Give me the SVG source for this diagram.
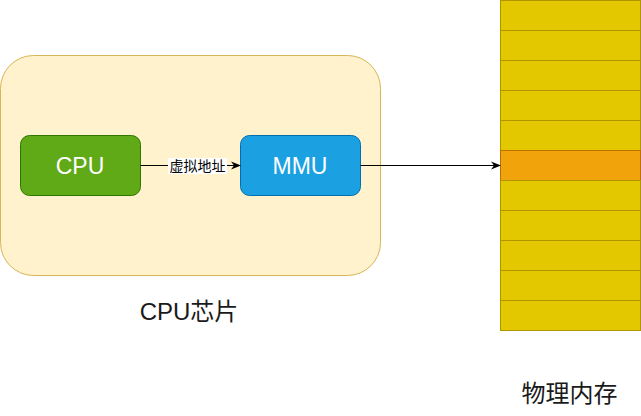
<svg xmlns="http://www.w3.org/2000/svg" width="641" height="416" viewBox="0 0 641 416">
<defs>
<style>
.t{font-family:"Liberation Sans","Noto Sans CJK SC",sans-serif;}
.cell{fill:#e3c800;stroke:#b09500;stroke-width:1;}
.box{font-size:23px;fill:#ffffff;text-anchor:middle;}
.lbl{font-size:24px;fill:#1a1a1a;text-anchor:middle;}
.edge{stroke:#000;stroke-width:1;fill:none;}
</style>
<marker id="arr" viewBox="0 0 10 10" refX="9" refY="5" markerWidth="10" markerHeight="10" markerUnits="userSpaceOnUse" orient="auto">
<path d="M0,1 L10,5 L0,9 L3,5 Z" fill="#000"/>
</marker>
</defs>
<rect width="641" height="416" fill="#ffffff"/>
<g id="chip">
<rect x="0.5" y="55.5" width="380" height="220" rx="33" ry="33" fill="#fff2cc" stroke="#d6b656"/>
<text class="t lbl" x="189" y="320">CPU芯片</text>
</g>
<g id="memory">
<rect class="cell" x="500.5" y="0.5" width="140" height="30"/>
<rect class="cell" x="500.5" y="30.5" width="140" height="30"/>
<rect class="cell" x="500.5" y="60.5" width="140" height="30"/>
<rect class="cell" x="500.5" y="90.5" width="140" height="30"/>
<rect class="cell" x="500.5" y="120.5" width="140" height="30"/>
<rect x="500.5" y="150.5" width="140" height="30" fill="#f0a30a" stroke="#bd7000"/>
<rect class="cell" x="500.5" y="180.5" width="140" height="30"/>
<rect class="cell" x="500.5" y="210.5" width="140" height="30"/>
<rect class="cell" x="500.5" y="240.5" width="140" height="30"/>
<rect class="cell" x="500.5" y="270.5" width="140" height="30"/>
<rect class="cell" x="500.5" y="300.5" width="140" height="30"/>
<text class="t lbl" x="569.5" y="402">物理内存</text>
</g>
<g id="cpu">
<rect x="20.5" y="135.5" width="120" height="60" rx="9" ry="9" fill="#60a917" stroke="#2d7600"/>
<text class="t box" x="80" y="174">CPU</text>
</g>
<g id="mmu">
<rect x="240.5" y="135.5" width="120" height="60" rx="9" ry="9" fill="#1ba1e2" stroke="#006eaf"/>
<text class="t box" x="300" y="174">MMU</text>
</g>
<g id="connectors">
<path class="edge" d="M140.5,165.5 L240,165.5" marker-end="url(#arr)"/>
<rect x="168" y="158" width="59" height="16" fill="#ffffff"/>
<text class="t" x="197.5" y="171" font-size="14" fill="#000" text-anchor="middle">虚拟地址</text>
<path class="edge" d="M360.5,165.5 L500,165.5" marker-end="url(#arr)"/>
</g>
</svg>
